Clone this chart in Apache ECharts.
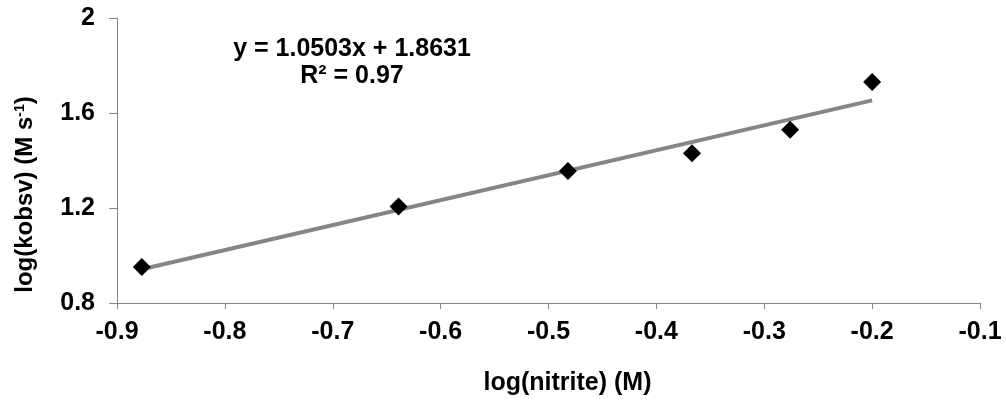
<!DOCTYPE html>
<html>
<head>
<meta charset="utf-8">
<script src="https://cdn.jsdelivr.net/npm/echarts@6/dist/echarts.min.js"></script>
<style>html,body{margin:0;padding:0;background:#fff;}#c{width:1006px;height:402px;}</style>
</head>
<body>
<div id="c"></div>
<script>
// Data
var logNitrite = [-0.877, -0.639, -0.482, -0.367, -0.276, -0.200];
var logKobsv   = [0.952, 1.206, 1.356, 1.431, 1.530, 1.731];
// Trendline endpoints (as drawn in the picture)
var trendX = [-0.877, -0.200];
var trendY = [0.942, 1.653];
var equationText = 'y = 1.0503x + 1.8631';
var r2Text = 'R² = 0.97';
var xTitle = 'log(nitrite) (M)';
var yTitle = 'log(kobsv) (M s{sup|-1})';

var FONT = '"Liberation Sans", Arial, sans-serif';
var chart = echarts.init(document.getElementById('c'), null, {renderer: 'canvas'});

var scatterData = logNitrite.map(function (x, i) { return [x, logKobsv[i]]; });
var trendData = trendX.map(function (x, i) { return [x, trendY[i]]; });

chart.setOption({
  animation: false,
  backgroundColor: '#ffffff',
  grid: {left: 117, right: 26, top: 18, bottom: 99, containLabel: false},
  xAxis: {
    type: 'value', min: -0.9, max: -0.1, interval: 0.1,
    axisLine: {show: true, onZero: false, lineStyle: {color: '#868686', width: 1}},
    axisTick: {show: true, length: 6, lineStyle: {color: '#868686'}},
    splitLine: {show: false},
    axisLabel: {
      margin: 17, color: '#000', fontFamily: FONT, fontWeight: 'bold', fontSize: 25,
      formatter: function (v) { return v.toFixed(1); }
    },
    name: xTitle, nameLocation: 'middle', nameGap: 68,
    nameTextStyle: {color: '#000', fontFamily: FONT, fontWeight: 'bold', fontSize: 25, padding: [0, 0, 0, 38]}
  },
  yAxis: {
    type: 'value', min: 0.8, max: 2, interval: 0.4,
    axisLine: {show: true, onZero: false, lineStyle: {color: '#868686', width: 1}},
    axisTick: {show: true, length: 8, lineStyle: {color: '#868686'}},
    splitLine: {show: false},
    axisLabel: {
      margin: 22, color: '#000', fontFamily: FONT, fontWeight: 'bold', fontSize: 25,
      formatter: function (v) { return (Math.round(v * 10) / 10).toString(); }
    },
    name: yTitle, nameLocation: 'middle', nameGap: 80, nameRotate: 90,
    nameTextStyle: {
      color: '#000', fontFamily: FONT, fontWeight: 'bold', fontSize: 24, padding: [0, 68, 0, 0],
      rich: {sup: {color: '#000', fontFamily: FONT, fontWeight: 'bold', fontSize: 14, verticalAlign: 'top'}}
    }
  },
  series: [
    {
      type: 'line', data: trendData, showSymbol: false, symbol: 'none',
      lineStyle: {color: '#858585', width: 4}, z: 2, silent: true
    },
    {
      type: 'scatter', data: scatterData, symbol: 'diamond', symbolSize: 18,
      itemStyle: {color: '#000000', opacity: 1}, z: 3
    }
  ],
  graphic: [
    {
      type: 'text', x: 352, y: 63,
      style: {
        text: equationText + '\n' + r2Text,
        font: 'bold 25px ' + FONT, fill: '#000',
        align: 'center', verticalAlign: 'middle', lineHeight: 27
      }
    }
  ]
});
</script>
</body>
</html>
